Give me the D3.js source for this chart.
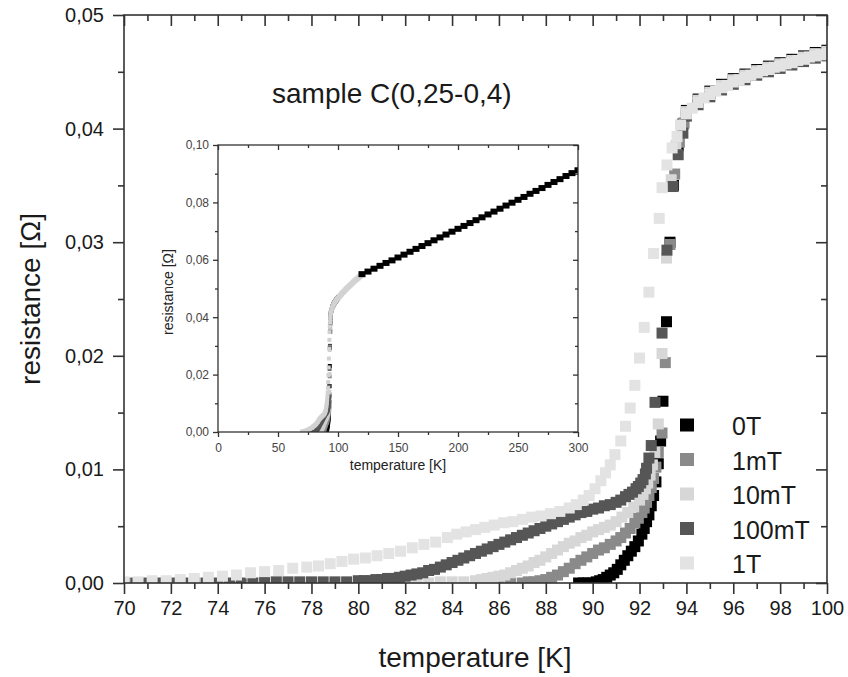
<!DOCTYPE html>
<html>
<head>
<meta charset="utf-8">
<script src="https://cdn.jsdelivr.net/npm/d3@7/dist/d3.min.js"></script>
<style>
  body { margin: 0; background: #fff; }
  svg text { font-family: "Liberation Sans", Arial, Helvetica, sans-serif; }
</style>
</head>
<body>
<svg id="chart" width="848" height="677"></svg>
<script>
// ---- data: [temperature K, resistance Ohm] ----
const fields = ["0T", "1mT", "10mT", "100mT", "1T"];

const r0T = [[89.4,0],[89.6,0],[89.8,0],[90.0,0],[90.15,0.0001],[90.3,0.0002],[90.45,0.0003],[90.6,0.0005],
  [90.75,0.0007],[90.9,0.0009],[91.05,0.0012],[91.2,0.0016],[91.35,0.0020],[91.5,0.0024],[91.65,0.0028],
  [91.8,0.0032],[91.95,0.0037],[92.1,0.0043],[92.2,0.0048],[92.3,0.0054],[92.4,0.0060],[92.5,0.0068],
  [92.6,0.0077],[92.7,0.0089],[92.8,0.0105],[92.9,0.0125],[93.0,0.0160],[93.15,0.0230],[93.3,0.0300],
  [93.45,0.0350],[93.65,0.0385],[93.85,0.0404],[94,0.0416],[94.5,0.0426],[95,0.0433],[95.5,0.0439],[96,0.0444],
  [96.5,0.0448],[97,0.0452],[97.5,0.0455],[98,0.0458],[98.5,0.0461],[99,0.0464],[99.5,0.0467],[100,0.0469]];

const r1mT = [[86,0],[86.5,0],[87,0],[87.25,0.0001],[87.5,0.0001],[87.75,0.0002],[88,0.0003],[88.25,0.0005],
  [88.5,0.0007],[88.75,0.0010],[89,0.0013],[89.25,0.0017],[89.5,0.0020],[89.75,0.0023],[90,0.0026],[90.25,0.0029],
  [90.5,0.0031],[90.75,0.0034],[91,0.0037],[91.2,0.0040],[91.4,0.0044],[91.6,0.0048],[91.8,0.0053],[91.95,0.0057],
  [92.1,0.0062],[92.2,0.0066],[92.3,0.0071],[92.4,0.0077],[92.5,0.0084],[92.6,0.0092],[92.7,0.0102],[92.8,0.0115],
  [92.96,0.0132],[93.1,0.0194],[93.3,0.0298],[93.5,0.0360],[93.7,0.0388],[93.9,0.0405],[94,0.0414],[94.5,0.0424],
  [95,0.0431],[95.5,0.0437],[96,0.0442],[96.5,0.0446],[97,0.0450],[97.5,0.0453],[98,0.0456],[98.5,0.0459],
  [99,0.0462],[99.5,0.0465],[100,0.0467]];

const r10mT = [[82,0],[82.5,0],[83,0],[83.5,0.0001],[84,0.0001],[84.5,0.0001],[85,0.0002],[85.25,0.0003],
  [85.5,0.0004],[85.75,0.0005],[86,0.0006],[86.25,0.0007],[86.5,0.0009],[86.75,0.0011],[87,0.0013],[87.25,0.0015],
  [87.5,0.0018],[87.75,0.0020],[88,0.0023],[88.25,0.0026],[88.5,0.0029],[88.75,0.0032],[89,0.0035],[89.25,0.0037],
  [89.5,0.0040],[89.75,0.0042],[90,0.0045],[90.25,0.0047],[90.5,0.0049],[90.75,0.0051],[91,0.0054],[91.25,0.0058],
  [91.5,0.0062],[91.75,0.0067],[92,0.0073],[92.15,0.0078],[92.25,0.0083],[92.35,0.0088],[92.45,0.0095],
  [92.55,0.0104],[92.65,0.0115],[92.8,0.0140],[92.96,0.0202],[93.15,0.0286],[93.35,0.0355],[93.55,0.0385],
  [93.75,0.0403],[94,0.0415],[94.5,0.0425],[95,0.0432],[95.5,0.0438],[96,0.0443],[96.5,0.0447],[97,0.0451],
  [97.5,0.0454],[98,0.0457],[98.5,0.0460],[99,0.0463],[99.5,0.0466],[100,0.0468]];

const r100mT = [[70,0],[70.5,0],[71,0],[71.5,0],[72,0],[72.5,0],[73,0],[73.5,0],[74,0],[74.5,0],[75,0],[75.5,0],
  [76,0.0001],[76.5,0.0001],[77,0.0001],[77.5,0.0001],[78,0.0001],[78.5,0.0001],[79,0.0001],[79.5,0.0001],
  [80,0.0002],[80.25,0.0002],[80.5,0.0002],[80.75,0.0003],[81,0.0003],[81.25,0.0004],[81.5,0.0004],[81.75,0.0005],
  [82,0.0006],[82.25,0.0007],[82.5,0.0008],[82.75,0.0009],[83,0.0011],[83.25,0.0012],[83.5,0.0014],[83.75,0.0016],
  [84,0.0018],[84.25,0.0020],[84.5,0.0022],[84.75,0.0024],[85,0.0026],[85.25,0.0028],[85.5,0.0030],[85.75,0.0032],
  [86,0.0034],[86.25,0.0036],[86.5,0.0038],[86.75,0.0040],[87,0.0042],[87.25,0.0044],[87.5,0.0046],[87.75,0.0048],
  [88,0.0050],[88.25,0.0052],[88.5,0.0054],[88.75,0.0056],[89,0.0058],[89.25,0.0060],[89.5,0.0062],[89.75,0.0063],
  [90,0.0065],[90.25,0.0066],[90.5,0.0068],[90.75,0.0069],[91,0.0071],[91.2,0.0073],[91.4,0.0076],[91.55,0.0078],
  [91.7,0.0080],[91.85,0.0083],[91.95,0.0085],[92.05,0.0088],[92.15,0.0091],[92.25,0.0096],[92.3,0.0101],
  [92.4,0.0110],[92.5,0.0121],[92.66,0.0159],[92.96,0.0220],[93.17,0.0293],[93.43,0.0349],[93.65,0.0377],
  [93.85,0.0396],[94,0.0411],[94.5,0.0421],[95,0.0428],[95.5,0.0434],[96,0.0439],[96.5,0.0443],[97,0.0447],
  [97.5,0.0450],[98,0.0453],[98.5,0.0456],[99,0.0459],[99.5,0.0462],[100,0.0464]];

const r1T = [[70,0.0001],[70.6,0.0001],[71.2,0.0002],[71.8,0.0002],[72.4,0.0003],[73,0.0004],[73.6,0.0005],
  [74.2,0.0006],[74.8,0.0007],[75.4,0.0009],[76,0.0010],[76.6,0.0011],[77.2,0.0013],[77.8,0.0014],[78.3,0.0015],
  [78.8,0.0017],[79.3,0.0019],[79.8,0.0021],[80.3,0.0022],[80.8,0.0024],[81.3,0.0026],[81.8,0.0028],[82.3,0.0031],
  [82.8,0.0034],[83.3,0.0036],[83.8,0.0040],[84.2,0.0043],[84.6,0.0045],[85,0.0047],[85.4,0.0049],[85.8,0.0051],
  [86.2,0.0053],[86.6,0.0054],[87,0.0056],[87.4,0.0058],[87.8,0.0059],[88.2,0.0061],[88.6,0.0063],[89,0.0066],
  [89.3,0.0069],[89.6,0.0073],[89.85,0.0077],[90.1,0.0083],[90.35,0.0090],[90.55,0.0097],[90.75,0.0104],
  [90.95,0.0113],[91.2,0.0125],[91.4,0.0138],[91.6,0.0154],[91.8,0.0174],[92.0,0.0198],[92.2,0.0225],[92.4,0.0256],
  [92.6,0.0290],[92.84,0.0321],[92.96,0.0348],[93.17,0.0368],[93.39,0.0383],[93.6,0.0393],[93.75,0.0403],[94,0.0413],
  [94.25,0.0418],[94.5,0.0423],[94.75,0.0427],[95,0.0430],[95.25,0.0433],[95.5,0.0436],[95.75,0.0438],[96,0.0441],
  [96.25,0.0443],[96.5,0.0445],[96.75,0.0447],[97,0.0449],[97.25,0.0451],[97.5,0.0452],[97.75,0.0454],[98,0.0455],
  [98.25,0.0457],[98.5,0.0458],[98.75,0.0460],[99,0.0461],[99.25,0.0463],[99.5,0.0464],[99.75,0.0465],[100,0.0466]];

// inset: the full range up to 300 K
const insetLight = [[100,0.0466],[101,0.0471],[102,0.0476],[103,0.0481],[104,0.0486],[105,0.0490],[106,0.0495],
  [107,0.0499],[108,0.0503],[109,0.0507],[110,0.0511],[111,0.0515],[112,0.0519],[113,0.0523],[114,0.0527],
  [115,0.0530],[116,0.0534],[117,0.0537],[118,0.0541],[119,0.0544],[120,0.0548]];
const insetBlack = [[120,0.0550],[125,0.0559],[130,0.0569],[135,0.0579],[140,0.0589],[145,0.0598],[150,0.0608],
  [155,0.0618],[160,0.0628],[165,0.0638],[170,0.0648],[175,0.0658],[180,0.0668],[185,0.0678],[190,0.0688],
  [195,0.0698],[200,0.0708],[205,0.0718],[210,0.0728],[215,0.0738],[220,0.0748],[225,0.0758],[230,0.0768],
  [235,0.0778],[240,0.0789],[245,0.0799],[250,0.0809],[255,0.0819],[260,0.0830],[265,0.0840],[270,0.0850],
  [275,0.0861],[280,0.0871],[285,0.0881],[290,0.0892],[295,0.0902],[300,0.0912]];

const xMajor = d3.range(70, 101, 2), xMinor = d3.range(71, 100, 2);
const yMajor = [0, 0.01, 0.02, 0.03, 0.04, 0.05], yMinor = [0.005, 0.015, 0.025, 0.035, 0.045];
const ixMajor = [0, 50, 100, 150, 200, 250, 300], ixMinor = [25, 75, 125, 175, 225, 275];
const iyMajor = [0, 0.02, 0.04, 0.06, 0.08, 0.10], iyMinor = [0.01, 0.03, 0.05, 0.07, 0.09];

const series = [r0T, r1mT, r10mT, r100mT, r1T];
const colors = ["#000000", "#8a8a8a", "#d7d7d7", "#565656", "#e3e3e3"];
const insetColors = ["#000000", "#8a8a8a", "#cfcfcf", "#565656", "#d2d2d2"];

const svg = d3.select("#chart");
const comma = d => d3.format(".2f")(d).replace(".", ",");

// main scales
const x = d3.scaleLinear().domain([70, 100]).range([124, 827]);
const y = d3.scaleLinear().domain([0, 0.05]).range([583, 15]);

function frame(g, x, y, o) {
  const [x0, x1] = x.range(), [y0, y1] = y.range();
  const style = sel => {
    sel.select(".domain").remove();
    sel.selectAll("line").attr("stroke", "#333").attr("stroke-width", o.sw);
    sel.selectAll("text").attr("fill", o.tc).style("font-size", o.fs + "px");
  };
  g.append("g").attr("transform", `translate(0,${y0})`)
    .call(d3.axisBottom(x).tickValues(o.xMa).tickSize(o.big).tickPadding(o.xPad).tickFormat(d3.format("d"))).call(style);
  g.append("g").attr("transform", `translate(0,${y0})`)
    .call(d3.axisBottom(x).tickValues(o.xMi).tickSize(o.small).tickFormat("")).call(style);
  g.append("g").attr("transform", `translate(0,${y1})`)
    .call(d3.axisTop(x).tickValues(o.xMa).tickSize(-o.big).tickFormat("")).call(style);
  g.append("g").attr("transform", `translate(0,${y1})`)
    .call(d3.axisTop(x).tickValues(o.xMi).tickSize(-o.small).tickFormat("")).call(style);
  g.append("g").attr("transform", `translate(${x0},0)`)
    .call(d3.axisLeft(y).tickValues(o.yMa).tickSize(o.big).tickPadding(o.yPad).tickFormat(comma)).call(style);
  g.append("g").attr("transform", `translate(${x0},0)`)
    .call(d3.axisLeft(y).tickValues(o.yMi).tickSize(o.small).tickFormat("")).call(style);
  g.append("g").attr("transform", `translate(${x1},0)`)
    .call(d3.axisRight(y).tickValues(o.yMa).tickSize(-o.big).tickFormat("")).call(style);
  g.append("g").attr("transform", `translate(${x1},0)`)
    .call(d3.axisRight(y).tickValues(o.yMi).tickSize(-o.small).tickFormat("")).call(style);
  g.append("rect").attr("x", x0).attr("y", y1).attr("width", x1 - x0).attr("height", y0 - y1)
    .attr("fill", "none").attr("stroke", "#333").attr("stroke-width", o.sw);
}

function squares(g, data, sx, sy, w, h, color) {
  g.selectAll(null).data(data).enter().append("rect")
    .attr("x", d => sx(d[0]) - w / 2)
    .attr("y", d => sy(d[1]) - h / 2)
    .attr("width", w).attr("height", h)
    .attr("fill", color);
}

// main data, clipped to the frame
svg.append("clipPath").attr("id", "clipMain").append("rect")
  .attr("x", 124).attr("y", 15).attr("width", 703).attr("height", 568);
const plot = svg.append("g").attr("clip-path", "url(#clipMain)");
series.forEach((s, i) => squares(plot, s, x, y, 11, 11, colors[i]));

frame(svg, x, y, { xMa: xMajor, xMi: xMinor, yMa: yMajor, yMi: yMinor,
  big: 11, small: 6, sw: 1.6, fs: 20, tc: "#1a1a1a", xPad: 7, yPad: 9 });

svg.append("text").attr("x", 475).attr("y", 667).attr("text-anchor", "middle")
  .style("font-size", "28px").attr("fill", "#1a1a1a").text("temperature [K]");
svg.append("text").attr("transform", "translate(40,299) rotate(-90)").attr("text-anchor", "middle")
  .style("font-size", "28px").attr("fill", "#1a1a1a").text("resistance [Ω]");
svg.append("text").attr("x", 272).attr("y", 103)
  .style("font-size", "28px").attr("fill", "#1a1a1a").text("sample C(0,25-0,4)");

// legend
const legend = svg.append("g");
fields.forEach((f, i) => {
  const cy = 425 + i * 34.5;
  legend.append("rect").attr("x", 680).attr("y", cy - 6.5).attr("width", 14).attr("height", 13).attr("fill", colors[i]);
  legend.append("text").attr("x", 732).attr("y", cy + 10).style("font-size", "25px")
    .attr("fill", "#1a1a1a").text(f);
});

// inset
const ix = d3.scaleLinear().domain([0, 300]).range([218, 578]);
const iy = d3.scaleLinear().domain([0, 0.10]).range([432, 145]);
const inset = svg.append("g");
inset.append("rect").attr("x", 218).attr("y", 145).attr("width", 360).attr("height", 287).attr("fill", "#fff");
svg.append("clipPath").attr("id", "clipInset").append("rect")
  .attr("x", 218).attr("y", 145).attr("width", 360).attr("height", 287);
const ip = inset.append("g").attr("clip-path", "url(#clipInset)");
series.forEach((s, i) => squares(ip, s, ix, iy, 4, 4, insetColors[i]));
squares(ip, insetLight, ix, iy, 5, 5, "#d2d2d2");
squares(ip, insetBlack, ix, iy, 7, 6, "#000");

frame(inset, ix, iy, { xMa: ixMajor, xMi: ixMinor, yMa: iyMajor, yMi: iyMinor,
  big: 5, small: 3, sw: 1.3, fs: 12, tc: "#444", xPad: 6, yPad: 4 });

inset.append("text").attr("x", 398).attr("y", 470).attr("text-anchor", "middle")
  .style("font-size", "14px").attr("fill", "#222").text("temperature [K]");
inset.append("text").attr("transform", "translate(173,292) rotate(-90)").attr("text-anchor", "middle")
  .style("font-size", "14px").attr("fill", "#222").text("resistance [Ω]");
</script>
</body>
</html>
